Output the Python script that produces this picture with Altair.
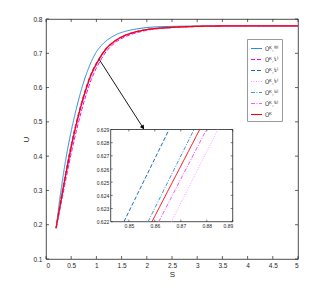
import altair as alt
import pandas as pd

# ---------------- data ----------------
S = [0.2, 0.3, 0.4, 0.5, 0.6, 0.7, 0.8, 0.9, 1.0, 1.1, 1.2, 1.3, 1.4, 1.6, 1.8, 2.0, 2.5, 3.0, 3.5, 4.0, 5.0]

U_K0 = [0.190, 0.303, 0.397, 0.473, 0.537, 0.593, 0.639, 0.676, 0.704, 0.723, 0.737, 0.747, 0.755, 0.765, 0.771, 0.775, 0.7785, 0.7795, 0.780, 0.780, 0.780]
U_K1 = [0.190, 0.262, 0.337, 0.408, 0.472, 0.530, 0.581, 0.624, 0.657, 0.684, 0.706, 0.722, 0.734, 0.750, 0.760, 0.767, 0.7748, 0.7782, 0.7795, 0.780, 0.780]
U_K2 = [0.190, 0.281, 0.361, 0.435, 0.499, 0.555, 0.603, 0.643, 0.672, 0.696, 0.716, 0.729, 0.740, 0.755, 0.7635, 0.7695, 0.7757, 0.7786, 0.7797, 0.780, 0.780]
U_K3 = [0.190, 0.269, 0.348, 0.423, 0.488, 0.546, 0.595, 0.636, 0.667, 0.692, 0.713, 0.727, 0.738, 0.753, 0.7625, 0.7685, 0.7752, 0.7784, 0.7796, 0.780, 0.780]
U_K4 = [0.190, 0.273, 0.353, 0.428, 0.493, 0.550, 0.599, 0.640, 0.670, 0.695, 0.715, 0.7285, 0.7392, 0.7541, 0.7631, 0.7691, 0.7756, 0.7785, 0.7797, 0.780, 0.780]
U_K5 = [0.190, 0.271, 0.351, 0.426, 0.491, 0.548, 0.597, 0.638, 0.668, 0.693, 0.7135, 0.7275, 0.7385, 0.7537, 0.7628, 0.7688, 0.7754, 0.7785, 0.7797, 0.780, 0.780]
U_K = [0.190, 0.272, 0.352, 0.427, 0.492, 0.549, 0.598, 0.639, 0.669, 0.694, 0.714, 0.728, 0.739, 0.754, 0.763, 0.769, 0.7755, 0.7785, 0.7797, 0.780, 0.780]

names = ["Ūᴷ,⁽⁰⁾", "Ūᴷ,⁽¹⁾", "Ūᴷ,⁽²⁾", "Ūᴷ,⁽³⁾", "Ūᴷ,⁽⁴⁾", "Ūᴷ,⁽⁵⁾", "Ūᴷ"]
colors = ["#2b8bd8", "#ff00ff", "#1a6fc0", "#ff99ff", "#3b9be0", "#ff55ff", "#ff0000"]
dashes = [[1, 0], [4, 2], [4, 2], [1, 1.5], [4, 1.5, 1, 1.5], [4, 1.5, 1, 1.5], [1, 0]]
series_U = [U_K0, U_K1, U_K2, U_K3, U_K4, U_K5, U_K]

# inset (zoomed view): S at U = 0.622 and U = 0.629
inset_U = [0.622, 0.629]
inset_S_K2 = [0.8481, 0.8655]
inset_S_K4 = [0.8574, 0.8751]
inset_S_K = [0.8589, 0.8773]
inset_S_K5 = [0.8615, 0.8799]
inset_S_K3 = [0.8664, 0.8843]

x_ticks = [0, 0.5, 1, 1.5, 2, 2.5, 3, 3.5, 4, 4.5, 5]
y_ticks = [0.1, 0.2, 0.3, 0.4, 0.5, 0.6, 0.7, 0.8]
inset_x_ticks = [0.85, 0.86, 0.87, 0.88, 0.89]
inset_y_ticks = [0.622, 0.623, 0.624, 0.625, 0.626, 0.627, 0.628, 0.629]

arrow_S = [1.054, 1.942]
arrow_U = [0.6825, 0.479]
arrow_head_S = [1.915]
arrow_head_U = [0.4853]

# ---------------- tables ----------------
rows = []
for n, us in zip(names, series_U):
    for s, u in zip(S, us):
        rows.append({"S": s, "U": u, "series": n})
df = pd.DataFrame(rows)
df_rest = df[df["series"] != names[-1]]
df_red = df[df["series"] == names[-1]]

inset_rows = []
for n, ss in [(names[2], inset_S_K2), (names[4], inset_S_K4), (names[3], inset_S_K3),
              (names[5], inset_S_K5), (names[6], inset_S_K)]:
    for s, u in zip(ss, inset_U):
        inset_rows.append({"S": s, "U": u, "series": n})
df_inset = pd.DataFrame(inset_rows)

FONT = "Liberation Sans"
TXT = "#262626"
W, H = 252, 240

legend = alt.Legend(title=None, orient="none", legendX=201, legendY=20,
                    symbolType="stroke", symbolSize=121, symbolStrokeWidth=1.1,
                    labelFontSize=6, labelFont=FONT, labelColor=TXT, labelOffset=2,
                    rowPadding=1, padding=3, strokeColor="#999", fillColor="white")
color_enc = alt.Color("series:N", scale=alt.Scale(domain=names, range=colors), legend=legend)
dash_enc = alt.StrokeDash("series:N", scale=alt.Scale(domain=names, range=dashes), legend=legend)

xs = alt.Scale(domain=[0, 5], nice=False, zero=False)
ys = alt.Scale(domain=[0.1, 0.8], nice=False, zero=False)

x_axis = alt.Axis(values=x_ticks, format="~g", title="S", ticks=False, domain=False, grid=False,
                  labelFontSize=6.5, labelFont=FONT, labelColor=TXT, labelPadding=3,
                  titleFontSize=8, titleFont=FONT, titleColor=TXT, titleFontWeight="normal", titlePadding=2)
y_axis = alt.Axis(values=y_ticks, format=".1f", title="U", ticks=False, domain=False, grid=False,
                  labelFontSize=6.5, labelFont=FONT, labelColor=TXT, labelPadding=4,
                  titleFontSize=8, titleFont=FONT, titleColor=TXT, titleFontWeight="normal", titlePadding=2)

def MX(field=None, datum=None):
    if field is not None:
        return alt.X(field, scale=xs, axis=x_axis)
    return alt.X(datum=datum, scale=xs, axis=x_axis)

def MY(field=None, datum=None):
    if field is not None:
        return alt.Y(field, scale=ys, axis=y_axis)
    return alt.Y(datum=datum, scale=ys, axis=y_axis)

lines_rest = alt.Chart(df_rest).mark_line(strokeWidth=1, interpolate="monotone").encode(
    x=MX("S:Q"), y=MY("U:Q"), color=color_enc, strokeDash=dash_enc,
)
lines_red = alt.Chart(df_red).mark_line(strokeWidth=1.3, interpolate="monotone").encode(
    x=MX("S:Q"), y=MY("U:Q"), color=color_enc, strokeDash=dash_enc,
)

xt = pd.DataFrame({"t": x_ticks})
yt = pd.DataFrame({"t": y_ticks})
tick_bottom = alt.Chart(xt).mark_rule(color="#222", strokeWidth=0.7, y2Offset=-3).encode(
    x=MX("t:Q"), y=MY(datum=0.1), y2=alt.Y2(datum=0.1))
tick_top = alt.Chart(xt).mark_rule(color="#222", strokeWidth=0.7, y2Offset=3).encode(
    x=MX("t:Q"), y=MY(datum=0.8), y2=alt.Y2(datum=0.8))
tick_left = alt.Chart(yt).mark_rule(color="#222", strokeWidth=0.7, x2Offset=3).encode(
    y=MY("t:Q"), x=MX(datum=0), x2=alt.X2(datum=0))
tick_right = alt.Chart(yt).mark_rule(color="#222", strokeWidth=0.7, x2Offset=-3).encode(
    y=MY("t:Q"), x=MX(datum=5), x2=alt.X2(datum=5))

arrow_df = pd.DataFrame({"S": arrow_S, "U": arrow_U})
arrow_line = alt.Chart(arrow_df).mark_line(color="black", strokeWidth=0.9).encode(
    x=MX("S:Q"), y=MY("U:Q"))
head_df = pd.DataFrame({"S": arrow_head_S, "U": arrow_head_U})
arrow_head = alt.Chart(head_df).mark_point(shape="triangle", angle=147, size=22, filled=True,
                                           color="black", opacity=1).encode(
    x=MX("S:Q"), y=MY("U:Q"))

main = alt.layer(lines_rest, lines_red, tick_bottom, tick_top, tick_left, tick_right,
                 arrow_line, arrow_head)

# ---------------- inset ----------------
ix = alt.Scale(domain=[0.843, 0.89], range=[64.7, 186.7], nice=False, zero=False)
iy = alt.Scale(domain=[0.622, 0.629], range=[202.7, 110.5], nice=False, zero=False)

ix_axis = alt.Axis(orient="bottom", offset=-(H - 202.7), values=inset_x_ticks, format=".2f",
                   title=None, ticks=False, domain=False, grid=False,
                   labelFontSize=5, labelFont=FONT, labelColor=TXT, labelPadding=2)
iy_axis = alt.Axis(orient="left", offset=-64.7, values=inset_y_ticks, format=".3f",
                   title=None, ticks=False, domain=False, grid=False,
                   labelFontSize=5, labelFont=FONT, labelColor=TXT, labelPadding=2)

def IX(field=None, datum=None):
    if field is not None:
        return alt.X(field, scale=ix, axis=ix_axis)
    return alt.X(datum=datum, scale=ix, axis=ix_axis)

def IY(field=None, datum=None):
    if field is not None:
        return alt.Y(field, scale=iy, axis=iy_axis)
    return alt.Y(datum=datum, scale=iy, axis=iy_axis)

inset_box = alt.Chart(pd.DataFrame({"a": [0]})).mark_rect(fill="white", stroke="#222", strokeWidth=0.8).encode(
    x=IX(datum=0.843), x2=alt.X2(datum=0.89), y=IY(datum=0.622), y2=alt.Y2(datum=0.629))

inset_lines = alt.Chart(df_inset).mark_line(strokeWidth=1).encode(
    x=IX("S:Q"), y=IY("U:Q"), color=color_enc, strokeDash=dash_enc,
)

ixt = pd.DataFrame({"t": inset_x_ticks})
iyt = pd.DataFrame({"t": inset_y_ticks})
itick_bottom = alt.Chart(ixt).mark_rule(color="#222", strokeWidth=0.6, y2Offset=-2).encode(
    x=IX("t:Q"), y=IY(datum=0.622), y2=alt.Y2(datum=0.622))
itick_top = alt.Chart(ixt).mark_rule(color="#222", strokeWidth=0.6, y2Offset=2).encode(
    x=IX("t:Q"), y=IY(datum=0.629), y2=alt.Y2(datum=0.629))
itick_left = alt.Chart(iyt).mark_rule(color="#222", strokeWidth=0.6, x2Offset=2).encode(
    y=IY("t:Q"), x=IX(datum=0.843), x2=alt.X2(datum=0.843))
itick_right = alt.Chart(iyt).mark_rule(color="#222", strokeWidth=0.6, x2Offset=-2).encode(
    y=IY("t:Q"), x=IX(datum=0.89), x2=alt.X2(datum=0.89))

inset = alt.layer(inset_box, inset_lines, itick_bottom, itick_top, itick_left, itick_right)

chart = alt.layer(main, inset).resolve_scale(x="independent", y="independent").properties(
    width=W, height=H,
    padding={"left": 38, "top": 11, "right": 18, "bottom": 22},
    autosize="none",
    background="white",
).configure_view(stroke="#222", strokeWidth=0.8)

chart.save("out.html", embed_options={"renderer": "svg", "actions": False})
